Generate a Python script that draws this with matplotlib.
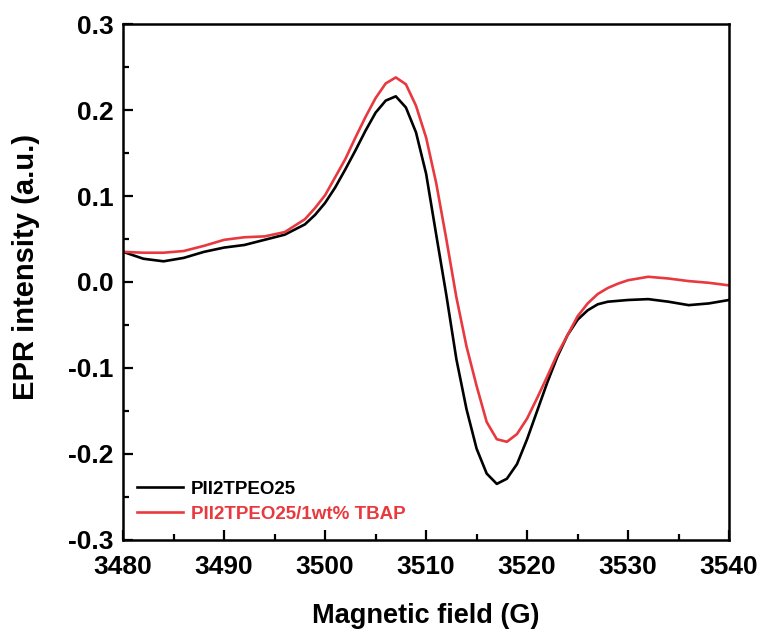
import matplotlib
matplotlib.use("Agg")
import matplotlib.pyplot as plt
from matplotlib.ticker import MultipleLocator

plt.rcParams['font.family'] = ['Liberation Sans', 'DejaVu Sans']
plt.rcParams['font.weight'] = 'bold'
plt.rcParams['axes.unicode_minus'] = False

field_black = [3480, 3482, 3484, 3486, 3488, 3490, 3492, 3494, 3496, 3498, 3499, 3500,
               3501, 3502, 3503, 3504, 3505, 3506, 3507, 3508, 3509, 3510, 3511, 3512,
               3513, 3514, 3515, 3516, 3517, 3518, 3519, 3520, 3521, 3522, 3523, 3524,
               3525, 3526, 3527, 3528, 3530, 3532, 3534, 3536, 3538, 3540]
epr_black = [0.035, 0.027, 0.024, 0.028, 0.035, 0.040, 0.043, 0.049, 0.055, 0.067, 0.078, 0.092,
             0.110, 0.131, 0.153, 0.176, 0.197, 0.211, 0.216, 0.203, 0.174, 0.126, 0.055, -0.015,
             -0.090, -0.148, -0.194, -0.223, -0.235, -0.229, -0.212, -0.183, -0.150, -0.117, -0.087, -0.062,
             -0.044, -0.033, -0.026, -0.023, -0.021, -0.020, -0.023, -0.027, -0.025, -0.021]

field_red = [3480, 3482, 3484, 3486, 3488, 3490, 3492, 3494, 3496, 3498, 3499, 3500,
             3501, 3502, 3503, 3504, 3505, 3506, 3507, 3508, 3509, 3510, 3511, 3512,
             3513, 3514, 3515, 3516, 3517, 3518, 3519, 3520, 3521, 3522, 3523, 3524,
             3525, 3526, 3527, 3528, 3529, 3530, 3532, 3534, 3536, 3538, 3540]
epr_red = [0.035, 0.034, 0.034, 0.036, 0.042, 0.049, 0.052, 0.053, 0.058, 0.073, 0.086, 0.101,
           0.122, 0.143, 0.168, 0.192, 0.214, 0.231, 0.238, 0.230, 0.205, 0.168, 0.115, 0.050,
           -0.018, -0.075, -0.121, -0.163, -0.183, -0.186, -0.177, -0.159, -0.135, -0.110, -0.084, -0.062,
           -0.040, -0.025, -0.014, -0.007, -0.002, 0.002, 0.006, 0.004, 0.001, -0.001, -0.004]

labels = ["PII2TPEO25", "PII2TPEO25/1wt% TBAP"]
colors = ["black", "#e8393f"]

fig = plt.figure(figsize=(7.65, 6.35), dpi=100)
ax = fig.add_axes([0.161, 0.150, 0.792, 0.812])

ax.plot(field_black, epr_black, color=colors[0], lw=1.9, label=labels[0])
ax.plot(field_red, epr_red, color=colors[1], lw=1.9, label=labels[1])

ax.set_xlim(3480, 3540)
ax.set_ylim(-0.3, 0.3)
ax.xaxis.set_major_locator(MultipleLocator(10))
ax.xaxis.set_minor_locator(MultipleLocator(5))
ax.yaxis.set_major_locator(MultipleLocator(0.1))
ax.yaxis.set_minor_locator(MultipleLocator(0.05))
ax.tick_params(which='both', direction='in', width=1.6, top=False, right=False)
ax.tick_params(which='major', length=7, labelsize=19)
ax.tick_params(which='minor', length=4)
ax.tick_params(axis='x', which='major', pad=11)
ax.tick_params(axis='y', which='major', pad=7)
for s in ax.spines.values():
    s.set_linewidth(1.8)

ax.set_xlabel("Magnetic field (G)", fontsize=19.5, fontweight='bold', labelpad=17)
ax.set_ylabel("EPR intensity (a.u.)", fontsize=21, fontweight='bold')
ax.yaxis.set_label_coords(-0.137, 0.529)

leg = ax.legend(loc='lower left', frameon=False, handlelength=2.45,
                handletextpad=0.4, labelspacing=0.4, borderaxespad=0.35,
                labelcolor='linecolor', prop={'weight': 'bold', 'size': 13.5},
                bbox_to_anchor=(0.0, 0.006))

fig.savefig("out.png", dpi=100)
